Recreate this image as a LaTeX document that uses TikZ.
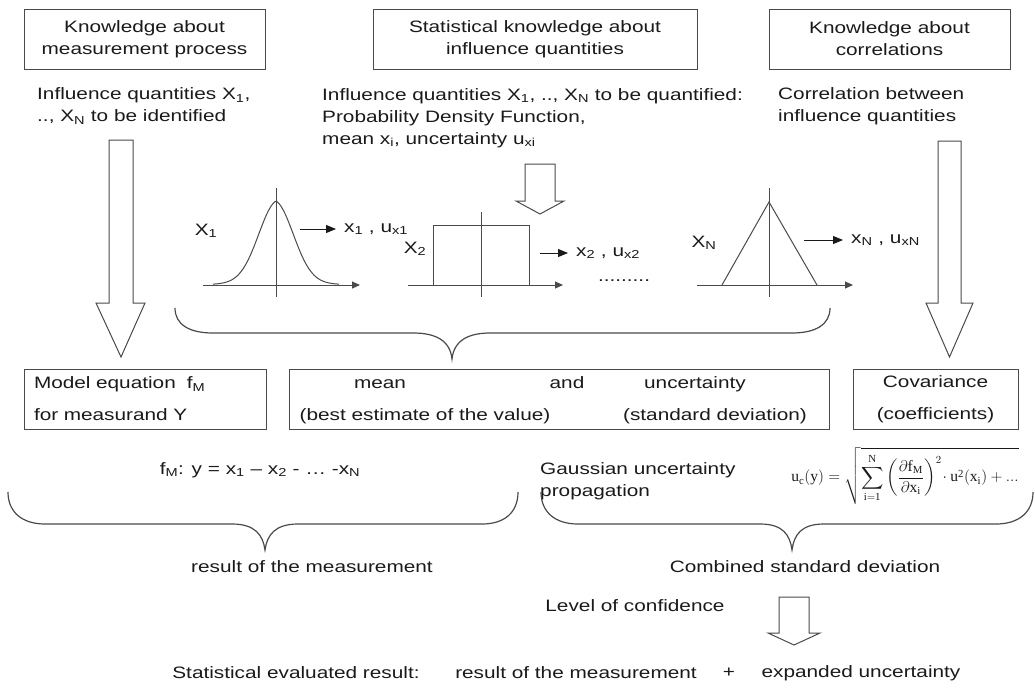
\documentclass[tikz,border=0pt]{standalone}
\usepackage{amsmath}
\usepackage{fontspec}
\setmainfont{Liberation Serif}
\setsansfont{Liberation Sans}[FakeStretch=1.26]
\usepackage{tikz}
\usepackage{xcolor}
\usetikzlibrary{arrows.meta, positioning}

\definecolor{linegray}{HTML}{4A4A4A}
\definecolor{textblack}{HTML}{1A1A1A}

\tikzset{
  box/.style={draw=linegray, line width=1pt, minimum height=60pt, inner sep=0pt},
  txt/.style={inner sep=0pt, align=left, anchor=west},
  lbl/.style={inner sep=0pt, anchor=base},
  hollow/.style={draw=linegray, line width=1pt, line join=miter},
  curly/.style={draw=linegray, line width=1.2pt},
  pdf/.style={draw=linegray, line width=1pt},
  pdfaxis/.style={draw=linegray, line width=1pt, -{Triangle[length=8pt,width=7pt]}},
  pointer/.style={draw=textblack, line width=1pt, -{Triangle[length=10pt,width=8pt]}, shorten >=8pt},
}

\begin{document}
\begin{tikzpicture}[x=1pt, y=-1pt, text=textblack,
    font=\sffamily\fontsize{16.5}{22}\selectfont]
    \useasboundingbox (0,0) rectangle (1035,688);

    % Top boxes
    \node[box, minimum width=241pt, align=center] (kproc) at (144.5,39) {Knowledge about\\measurement process};
    \node[box, minimum width=324pt, align=center] (kstat) at (535,39) {Statistical knowledge about\\influence quantities};
    \node[box, minimum width=241pt, align=center] (kcorr) at (889.5,39) {Knowledge about\\correlations};

    \node[txt] (ident) at (37,106) {Influence quantities X\textsubscript{1},\\.., X\textsubscript{N} to be identified};
    \node[txt] (quant) at (322,118) {Influence quantities X\textsubscript{1}, .., X\textsubscript{N} to be quantified:\\Probability Density Function,\\mean x\textsubscript{i}, uncertainty u\textsubscript{xi}};
    \node[txt] (corr) at (778,106) {Correlation between\\influence quantities};

    % Block arrows
    \draw[hollow] (109,140) -- (133,140) -- (133,303) -- (145,303) -- (121,357) -- (96,303) -- (109,303) -- cycle;
    \draw[hollow] (938,141) -- (961,141) -- (961,303) -- (973,303) -- (949.5,357) -- (926,303) -- (938,303) -- cycle;
    \draw[hollow] (525,164) -- (555,164) -- (555,201) -- (564,201) -- (540,214) -- (516,201) -- (525,201) -- cycle;

    % Normal distribution
    \draw[pdfaxis] (203,285) -- (360,285);
    \draw[pdf] (276,188) -- (276,297);
    \draw[pdf] plot[domain=213:339, samples=90, smooth] (\x, {285-84*(0.85*exp(-0.5*((\x-276)/18)*((\x-276)/18))+0.15*exp(-abs(\x-276)/22))});
    \node (X1) at (206,231) {X\textsubscript{1}};
    \node[txt] (est1) at (344,229) {x\textsubscript{1} , u\textsubscript{x1}};
    \coordinate (a1) at (300,229);
    \draw[pointer] (a1) -- (est1.west);

    % Rectangular distribution
    \draw[pdfaxis] (408,285) -- (563,285);
    \draw[pdf] (481,212) -- (481,297);
    \draw[pdf] (433,285) -- (433,225) -- (529,225) -- (529,285);
    \node (X2) at (415,249) {X\textsubscript{2}};
    \node[txt] (est2) at (576,253) {x\textsubscript{2} , u\textsubscript{x2}};
    \coordinate (a2) at (540,253);
    \draw[pointer] (a2) -- (est2.west);
    \node (dots) at (624,281) {.........};

    % Triangular distribution
    \draw[pdfaxis] (697,285) -- (853,285);
    \draw[pdf] (769,188) -- (769,297);
    \draw[pdf] (722,285) -- (769,202) -- (817,285);
    \node (XN) at (704,243) {X\textsubscript{N}};
    \node[txt] (estN) at (851,240) {x\textsubscript{N} , u\textsubscript{xN}};
    \coordinate (aN) at (804,240);
    \draw[pointer] (aN) -- (estN.west);

    % Brace under distributions
    \draw[curly] (175,308) .. controls (175,325) and (190,333) .. (213,333) -- (413,333)
        .. controls (435,333) and (450,340) .. (452,359)
        .. controls (454,340) and (469,333) .. (490,333) -- (792,333)
        .. controls (815,333) and (830,325) .. (830,308);

    % Middle boxes
    \node[box, minimum width=242pt, text width=222pt, align=left] (model) at (145,399) {Model equation \ f\textsubscript{M}\\[10pt]for measurand Y};
    \node[box, minimum width=540pt] (meanunc) at (559,399) {};
    \node[lbl] (mean) at (380,388) {mean};
    \node[lbl] (best) at (425,420) {(best estimate of the value)};
    \node[lbl] (and) at (567,388) {and};
    \node[lbl] (unc) at (695,388) {uncertainty};
    \node[lbl] (stddev) at (715,420) {(standard deviation)};
    \node[box, minimum width=165pt, align=center] (cov) at (935.5,399) {Covariance\\[10pt](coefficients)};

    % Equations
    \node (fm) at (260,470) {f\textsubscript{M}: y = x\textsubscript{1} -- x\textsubscript{2} - \dots{} -x\textsubscript{N}};
    \node[txt] (gauss) at (540,481) {Gaussian uncertainty\\propagation};
    \node (ucform) at (905,476) {\scalebox{1.08}{\fontsize{14.4}{17}\selectfont$\displaystyle \mathrm{u_c(y)} = \sqrt{\sum_{\mathrm{i=1}}^{\mathrm{N}} \left(\frac{\partial \mathrm{f_M}}{\partial \mathrm{x_i}}\right)^{2} \!\cdot \mathrm{u^2(x_i)} + \mathrm{...}}$}};

    % Bottom braces
    \draw[curly] (8,492) .. controls (8,512) and (22,524) .. (45,524) -- (232,524)
        .. controls (255,524) and (263,535) .. (265,550)
        .. controls (267,535) and (275,524) .. (298,524) -- (482,524)
        .. controls (505,524) and (518,512) .. (518,492);
    \draw[curly] (541,492) .. controls (541,512) and (555,524) .. (578,524) -- (760,524)
        .. controls (783,524) and (790,535) .. (792,550)
        .. controls (794,535) and (801,524) .. (824,524) -- (996,524)
        .. controls (1019,524) and (1033,512) .. (1033,492);

    \node (result) at (312,567) {result of the measurement};
    \node (combined) at (805,567) {Combined standard deviation};
    \node (conf) at (635,606) {Level of confidence};
    \draw[hollow] (779,597) -- (809,597) -- (809,633) -- (820,633) -- (794,645) -- (768,633) -- (779,633) -- cycle;

    % Final result
    \node (stat) at (296,673) {Statistical evaluated result:};
    \node (result2) at (576,673) {result of the measurement};
    \node (plus) at (729,673) {+};
    \node (expand) at (861,673) {expanded uncertainty};
\end{tikzpicture}
\end{document}
